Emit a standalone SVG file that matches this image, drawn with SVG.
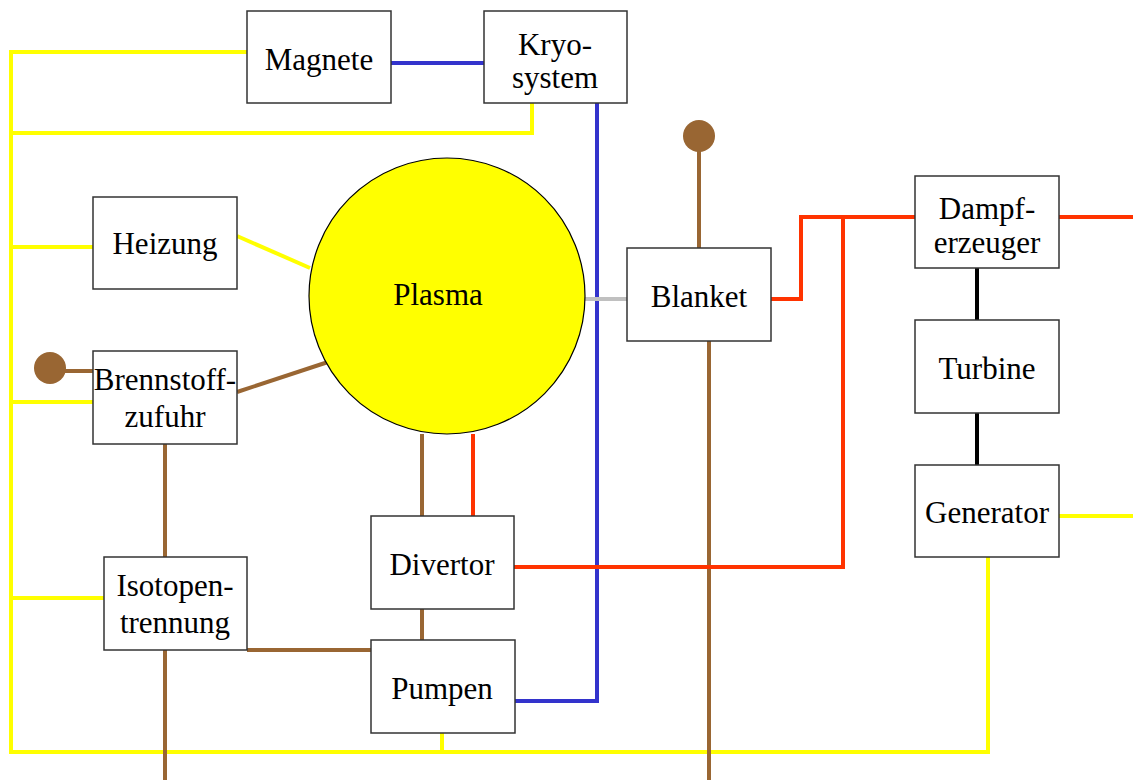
<svg xmlns="http://www.w3.org/2000/svg" width="1133" height="780" viewBox="0 0 1133 780">
<style>
.box{fill:#fff;stroke:#333;stroke-width:1.5}
.t{font-family:"Liberation Serif",serif;font-size:31px;fill:#000;text-anchor:middle}
.c{fill:none;stroke-width:4;stroke-linecap:butt;stroke-linejoin:miter}
.y{stroke:#ffff00}.b{stroke:#3333cc}.br{stroke:#996633}.r{stroke:#ff3300}.g{stroke:#c0c0c0}.k{stroke:#000}
</style>
<rect width="1133" height="780" fill="#fff"/>
<g id="connectors">
<polyline class="c y" points="247,52 11,52 11,752 988,752 988,557"/>
<polyline class="c y" points="11,133 532,133 532,103"/>
<line class="c y" x1="11" y1="247" x2="93" y2="247"/>
<line class="c y" x1="11" y1="402" x2="93" y2="402"/>
<line class="c y" x1="11" y1="598" x2="104" y2="598"/>
<line class="c y" x1="237" y1="236" x2="310" y2="268"/>
<line class="c y" x1="442" y1="733" x2="442" y2="752"/>
<line class="c y" x1="1059" y1="516" x2="1133" y2="516"/>
<line class="c b" x1="391" y1="63" x2="484" y2="63"/>
<polyline class="c b" points="597,103 597,701 515,701"/>
<line class="c g" x1="585" y1="299" x2="627" y2="299"/>
<line class="c br" x1="50" y1="371" x2="93" y2="371"/>
<line class="c br" x1="237" y1="392" x2="328" y2="362"/>
<line class="c br" x1="165" y1="444" x2="165" y2="557"/>
<line class="c br" x1="165" y1="650" x2="165" y2="780"/>
<line class="c br" x1="247" y1="650" x2="371" y2="650"/>
<line class="c br" x1="422" y1="434" x2="422" y2="516"/>
<line class="c br" x1="422" y1="609" x2="422" y2="640"/>
<line class="c br" x1="699" y1="136" x2="699" y2="248"/>
<line class="c br" x1="709" y1="341" x2="709" y2="780"/>
<line class="c r" x1="473" y1="434" x2="473" y2="516"/>
<polyline class="c r" points="514,567 843,567 843,218"/>
<polyline class="c r" points="771,299 801,299 801,217 915,217"/>
<line class="c r" x1="1059" y1="217" x2="1133" y2="217"/>
<line class="c k" x1="977" y1="268" x2="977" y2="320"/>
<line class="c k" x1="977" y1="413" x2="977" y2="465"/>
<circle cx="50" cy="368" r="16" fill="#996633"/>
<circle cx="699" cy="136" r="16" fill="#996633"/>
</g>
<g id="plasma"><circle cx="447" cy="296" r="138" fill="#ffff00" stroke="#000" stroke-width="1.2"/><text class="t" x="438" y="305">Plasma</text></g>
<g id="magnete"><rect class="box" x="247" y="11" width="144" height="92"/><text class="t" x="319" y="70">Magnete</text></g>
<g id="kryosystem"><rect class="box" x="484" y="11" width="143" height="92"/><text class="t" x="555" y="55">Kryo-</text><text class="t" x="555" y="88">system</text></g>
<g id="heizung"><rect class="box" x="93" y="197" width="144" height="92"/><text class="t" x="165" y="254">Heizung</text></g>
<g id="brennstoffzufuhr"><rect class="box" x="93" y="351" width="144" height="93"/><text class="t" x="165" y="390">Brennstoff-</text><text class="t" x="165" y="427">zufuhr</text></g>
<g id="isotopentrennung"><rect class="box" x="104" y="557" width="143" height="93"/><text class="t" x="175" y="596">Isotopen-</text><text class="t" x="175" y="633">trennung</text></g>
<g id="divertor"><rect class="box" x="371" y="516" width="143" height="93"/><text class="t" x="442" y="575">Divertor</text></g>
<g id="pumpen"><rect class="box" x="371" y="640" width="144" height="93"/><text class="t" x="442" y="699">Pumpen</text></g>
<g id="blanket"><rect class="box" x="627" y="248" width="144" height="93"/><text class="t" x="699" y="307">Blanket</text></g>
<g id="dampferzeuger"><rect class="box" x="915" y="176" width="144" height="92"/><text class="t" x="987" y="219">Dampf-</text><text class="t" x="987" y="253">erzeuger</text></g>
<g id="turbine"><rect class="box" x="915" y="320" width="144" height="93"/><text class="t" x="987" y="379">Turbine</text></g>
<g id="generator"><rect class="box" x="915" y="465" width="144" height="92"/><text class="t" x="987" y="523">Generator</text></g>
</svg>
